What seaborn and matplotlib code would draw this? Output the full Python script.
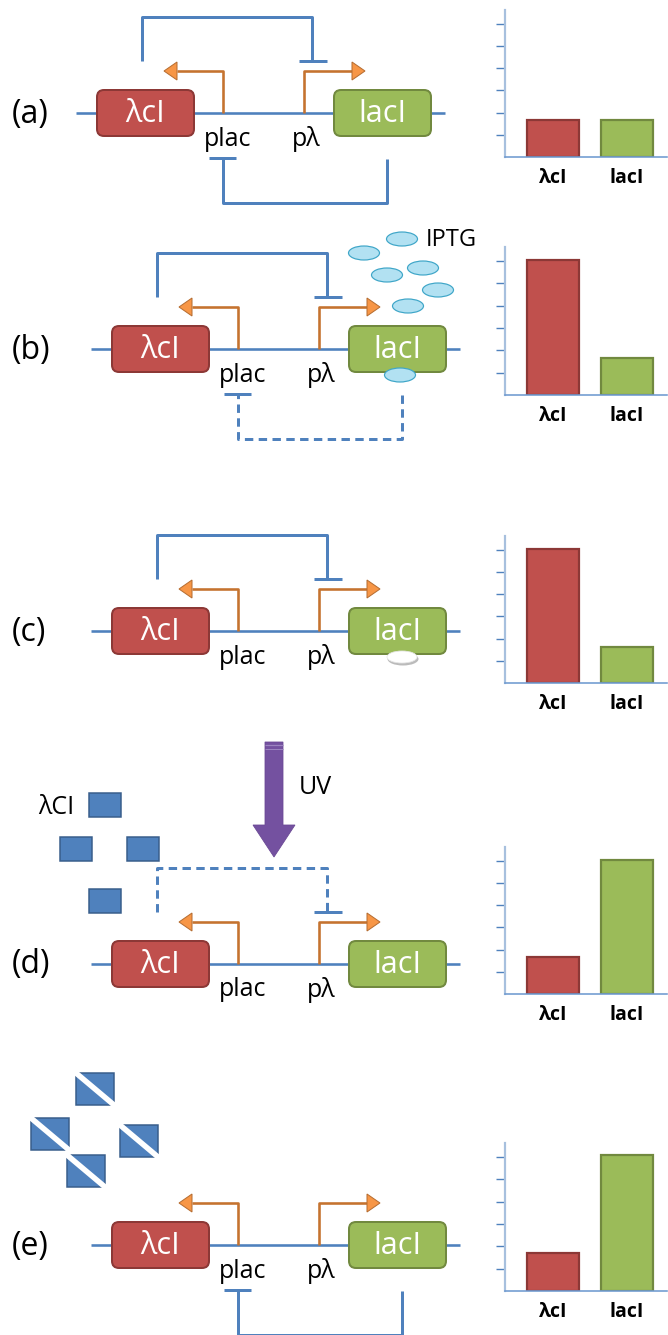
import matplotlib
matplotlib.use('Agg')
import matplotlib.pyplot as plt
import seaborn as sns
from matplotlib.patches import FancyBboxPatch, Polygon, Ellipse, Rectangle

# ---------------- data ----------------
genes = ['λcI', 'lacI']
panel_labels = ['(a)', '(b)', '(c)', '(d)', '(e)']
lambda_cI_level = [1.65, 6.05, 6.05, 1.68, 1.70]
lacI_level = [1.65, 1.67, 1.64, 6.05, 6.10]
y_ticks = [1, 2, 3, 4, 5, 6]
promoter_labels = ['plac', 'pλ']
repressor_label = 'λCI'
inducer_label = 'IPTG'
signal_label = 'UV'

sns.set_theme(style='white')
plt.rcParams['font.family'] = ['Open Sans', 'DejaVu Sans']
plt.rcParams['text.color'] = 'black'
plt.rcParams['xtick.color'] = 'black'
plt.rcParams['axes.labelcolor'] = 'black'

W, H = 668, 1335
fig = plt.figure(figsize=(W / 100, H / 100), dpi=100)
ov = fig.add_axes([0, 0, 1, 1])
ov.set_xlim(0, W)
ov.set_ylim(H, 0)
ov.axis('off')

PX = 0.72  # points per pixel
BLUE = '#4F81BD'
RED, RED_E = '#C0504D', '#8C3836'
GREEN, GREEN_E = '#9BBB59', '#71893F'
OR_LINE, OR_FILL, OR_EDGE = '#C5732F', '#F79646', '#B66D31'


def seg(xs, ys, color=BLUE, lw=3.0, dashed=False, z=2):
    kw = dict(color=color, lw=lw * PX, solid_capstyle='butt', zorder=z)
    if dashed:
        kw.update(ls=(0, (2.8, 1.8)), dash_capstyle='butt')
    ov.plot(xs, ys, **kw)


def gene_box(x0, x1, yc, fc, ec, text):
    ov.add_patch(FancyBboxPatch((x0, yc - 23), x1 - x0, 46,
                                boxstyle='round,pad=0,rounding_size=7',
                                fc=fc, ec=ec, lw=2 * PX, zorder=4))
    ov.text((x0 + x1) / 2, yc + 1, text, color='white', fontsize=22,
            ha='center', va='center', zorder=5)


def promoter(px, yl, tip, direction):
    ytop = yl - 42
    base = tip + 13 if direction < 0 else tip - 13
    seg([px, px, base], [yl, ytop, ytop], color=OR_LINE, lw=2.6, z=3)
    ov.add_patch(Polygon([[tip, ytop], [base, ytop - 9], [base, ytop + 9]],
                         closed=True, fc=OR_FILL, ec=OR_EDGE, lw=1 * PX, zorder=3))


def panel(label, dx, yl, top=None, bottom=None):
    ov.text(12, yl + 1, label, fontsize=23, ha='left', va='center', color='black')
    seg([91 + dx, 460 + dx], [yl, yl], lw=2.6, z=2)
    gene_box(112 + dx, 209 + dx, yl, RED, RED_E, genes[0])
    gene_box(349 + dx, 446 + dx, yl, GREEN, GREEN_E, genes[1])
    promoter(238 + dx, yl, 179 + dx, -1)
    promoter(319 + dx, yl, 380 + dx, +1)
    ov.text(243 + dx, yl + 26, promoter_labels[0], fontsize=18, ha='center', va='center')
    ov.text(321 + dx, yl + 26, promoter_labels[1], fontsize=18, ha='center', va='center')
    if top is not None:
        seg([157 + dx, 157 + dx, 327 + dx, 327 + dx],
            [yl - 52, yl - 96, yl - 96, yl - 52], dashed=(top == 'dashed'))
        seg([314 + dx, 342 + dx], [yl - 52, yl - 52])
    if bottom is not None:
        seg([402 + dx, 402 + dx, 238 + dx, 238 + dx],
            [yl + 46, yl + 90, yl + 90, yl + 45], dashed=(bottom == 'dashed'))
        seg([224 + dx, 251 + dx], [yl + 45, yl + 45])


# (a)
panel(panel_labels[0], -15, 113, top='solid', bottom='solid')
# (b)
yb = 349
panel(panel_labels[1], 0, yb, top='solid', bottom='dashed')
for cx, cy in [(402, 239), (364, 253), (387, 275), (423, 268), (438, 290), (408, 306), (400, 375)]:
    ov.add_patch(Ellipse((cx, cy), 31, 14, fc='#B2E1F2', ec='#3FA6C8', lw=1.2 * PX, zorder=6))
ov.text(426, 240, inducer_label, fontsize=17, ha='left', va='center')
# (c)
yc = 631
panel(panel_labels[2], 0, yc, top='solid')
ov.add_patch(Ellipse((403, 659), 31, 13, fc='#BBBBBB', ec='none', zorder=6))
ov.add_patch(Ellipse((402, 657), 30, 12, fc='white', ec='#E6E6E6', lw=0.8 * PX, zorder=7))
# (d)
yd = 964
panel(panel_labels[3], 0, yd, top='dashed')
ov.add_patch(Polygon([[265, 742], [283, 742], [283, 825], [295, 825], [274, 857],
                      [253, 825], [265, 825]], closed=True, fc='#7451A0', ec='#6A4894',
                     lw=0.8 * PX, zorder=3))
seg([265, 283], [745, 745], color='#9C84C0', lw=1.2, z=4)
seg([265, 283], [749, 749], color='#9C84C0', lw=1.0, z=4)
ov.text(299, 787, signal_label, fontsize=18, ha='left', va='center')
ov.text(38, 808, repressor_label, fontsize=18, ha='left', va='center')
for cx, cy in [(105, 805), (75.5, 849), (142.5, 849), (105, 901)]:
    ov.add_patch(Rectangle((cx - 16, cy - 12), 32, 24, fc=BLUE, ec='#385D8A',
                           lw=1.5 * PX, zorder=3))
# (e)
ye = 1245
panel(panel_labels[4], 0, ye, bottom='solid')
for x0, y0 in [(76, 1073), (31, 1118), (120, 1125), (67, 1155)]:
    ov.add_patch(Rectangle((x0, y0), 38, 32, fc=BLUE, ec='#385D8A', lw=1.5 * PX, zorder=3))
    ov.plot([x0 - 3, x0 + 41], [y0 - 2.5, y0 + 34.5], color='white', lw=5.5 * PX,
            solid_capstyle='butt', zorder=4)

# ---------------- bar charts ----------------
bar_spans = [(10, 157), (247, 395), (536, 683), (847, 994), (1143, 1291)]
for i, (top_px, bot_px) in enumerate(bar_spans):
    ax = fig.add_axes([505 / W, 1 - bot_px / H, 162 / W, (bot_px - top_px) / H])
    ax.set_facecolor('none')
    sns.barplot(x=genes, y=[lambda_cI_level[i], lacI_level[i]], hue=genes,
                palette=[RED, GREEN], legend=False, width=0.7, ax=ax,
                linewidth=2.2 * PX, saturation=1)
    for p, ec in zip(ax.patches, [RED_E, GREEN_E]):
        p.set_edgecolor(ec)
    ax.set_xlim(-0.65, 1.54)
    ax.set_ylim(0, 6.62)
    ax.set_yticks(y_ticks)
    ax.set_yticklabels([])
    ax.tick_params(axis='y', left=True, length=6.5, width=1.0, color='#4F81BD', direction='out')
    ax.tick_params(axis='x', length=0, pad=8, labelsize=14, labelcolor='black')
    for lab in ax.get_xticklabels():
        lab.set_fontweight('bold')
    for s in ['top', 'right']:
        ax.spines[s].set_visible(False)
    ax.spines['left'].set_color('#A7C0DE')
    ax.spines['left'].set_linewidth(2.2 * PX)
    ax.spines['bottom'].set_color('#6F9AD0')
    ax.spines['bottom'].set_linewidth(1.6 * PX)
    ax.set_xlabel('')
    ax.set_ylabel('')

fig.savefig('out.png', dpi=100)
